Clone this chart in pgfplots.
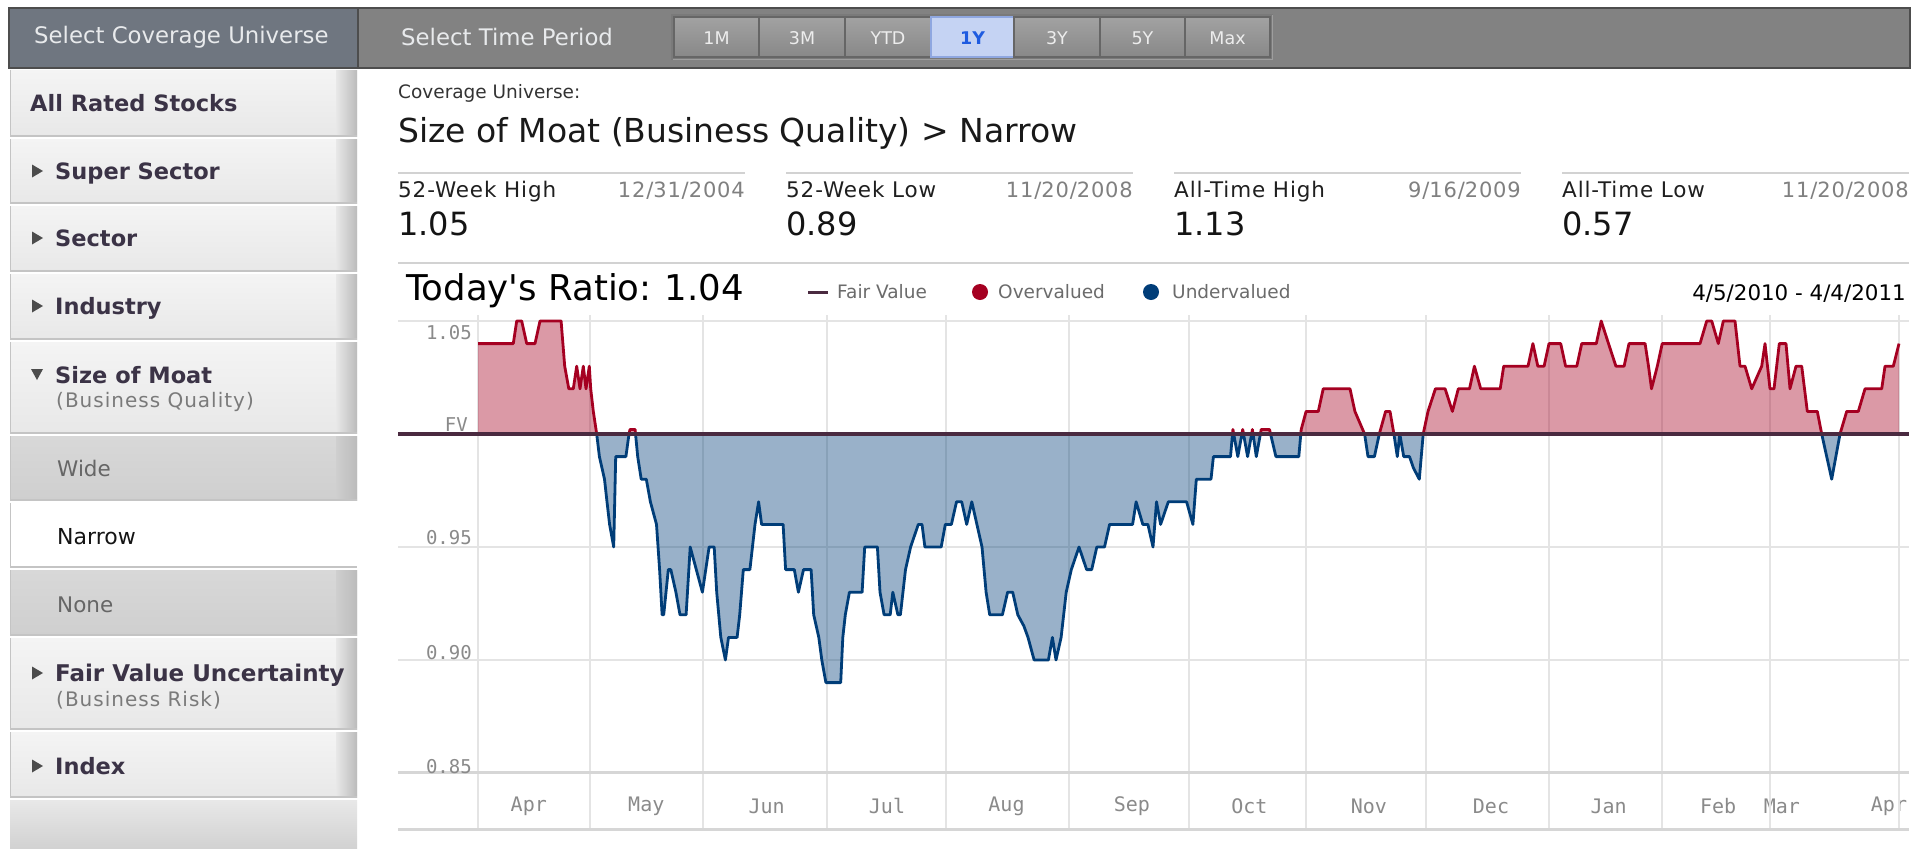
\documentclass[border=0pt]{standalone}
\usepackage{pgfplots}
\pgfplotsset{compat=1.18}
\usepackage{pgfplotstable}
\usepackage{fontspec}
\setmainfont{DejaVu Sans}
\newfontfamily\mono{DejaVu Sans Mono}
\newcommand{\fs}[1]{\fontsize{#1}{#1}\selectfont}
\definecolor{ovr}{HTML}{A50021}
\definecolor{und}{HTML}{003D78}
\definecolor{fvc}{HTML}{4A2A40}
\definecolor{grdc}{HTML}{E4E4E4}
\definecolor{axc}{HTML}{D6D6D6}
\definecolor{tickc}{HTML}{8A8A8A}
\definecolor{barL}{HTML}{6F7680}
\definecolor{barR}{HTML}{828282}
\definecolor{barEdge}{HTML}{4D4D4D}
\definecolor{hdrText}{HTML}{E8EAEC}
\definecolor{btnTop}{HTML}{A2A2A2}
\definecolor{btnBot}{HTML}{888888}
\definecolor{btnEdge}{HTML}{666666}
\definecolor{btnText}{HTML}{EDEDED}
\definecolor{hlFill}{HTML}{C5D3F3}
\definecolor{hlEdge}{HTML}{8FA7E0}
\definecolor{hlText}{HTML}{1E5BE0}
\definecolor{itemTop}{HTML}{F4F4F4}
\definecolor{itemBot}{HTML}{E8E8E8}
\definecolor{itemShadow}{HTML}{BBBBBB}
\definecolor{itemBorder}{HTML}{C4C4C4}
\definecolor{darkTop}{HTML}{D8D8D8}
\definecolor{darkBot}{HTML}{CFCFCF}
\definecolor{sideText}{HTML}{3B3346}
\definecolor{subText}{HTML}{7A7A7A}
\definecolor{ruleC}{HTML}{D2D2D2}

% Price / fair value ratio, 4/5/2010 - 4/4/2011 (u = position along the year, v = ratio)
\pgfplotstableread{
u v
0 1.04
35.3 1.04
38.7 1.05
43.7 1.05
48.7 1.04
57.0 1.04
62.0 1.05
83.1 1.05
86.7 1.03
90.8 1.02
95.3 1.02
98.7 1.03
102.0 1.02
105.3 1.03
108.0 1.02
111.3 1.03
112.7 1.02
115.3 1.01
118.7 1.00
121.4 0.99
126.5 0.98
129.0 0.97
131.6 0.96
135.7 0.95
137.7 0.99
147.9 0.99
151.0 1.00
152.0 1.002
157.1 1.002
159.7 0.99
163.2 0.98
168.3 0.98
172.4 0.97
178.5 0.96
181.6 0.94
184.1 0.92
185.7 0.92
190.3 0.94
192.8 0.94
197.9 0.93
202.0 0.92
208.1 0.92
212.2 0.95
218.3 0.94
224.4 0.93
231.1 0.95
236.2 0.95
238.7 0.93
242.8 0.91
247.4 0.90
250.5 0.91
259.1 0.91
261.7 0.92
265.3 0.94
271.9 0.94
277.0 0.96
280.6 0.97
283.6 0.96
305.1 0.96
307.6 0.94
316.3 0.94
320.4 0.93
325.5 0.94
333.1 0.94
335.7 0.92
340.8 0.91
343.8 0.90
347.9 0.89
362.7 0.89
364.8 0.91
367.3 0.92
371.4 0.93
384.1 0.93
386.7 0.95
399.4 0.95
402.0 0.93
406.1 0.92
412.2 0.92
414.8 0.93
419.9 0.92
422.4 0.92
427.5 0.94
432.6 0.95
440.3 0.96
444.0 0.96
446.9 0.95
463.2 0.95
467.3 0.96
473.4 0.96
478.5 0.97
483.7 0.97
488.7 0.96
493.8 0.97
498.9 0.96
504.0 0.95
508.1 0.93
511.7 0.92
524.4 0.92
529.6 0.93
534.7 0.93
539.8 0.92
545.9 0.915
550.0 0.91
556.1 0.90
570.4 0.90
574.4 0.91
578.0 0.90
583.1 0.91
588.2 0.93
593.3 0.94
601.0 0.95
608.6 0.94
613.7 0.94
618.8 0.95
626.5 0.95
631.6 0.96
654.6 0.96
658.1 0.97
664.8 0.96
669.9 0.96
675.0 0.95
678.5 0.97
682.6 0.96
690.3 0.97
708.6 0.97
714.9 0.96
718.3 0.98
733.0 0.98
735.4 0.99
752.5 0.99
754.9 1.002
759.8 0.99
764.7 1.002
769.6 0.99
774.4 1.002
778.3 0.99
783.2 1.002
791.5 1.002
797.9 0.99
820.8 0.99
823.2 1.002
828.1 1.01
840.3 1.01
845.2 1.02
872.0 1.02
876.9 1.01
886.6 1.00
890.0 0.99
896.4 0.99
901.3 1.00
907.6 1.01
912.0 1.01
915.9 1.00
919.3 0.99
921.8 1.00
925.7 0.99
931.5 0.99
935.4 0.985
941.3 0.98
945.2 1.00
950.0 1.01
957.4 1.02
967.1 1.02
974.4 1.01
980.3 1.02
991.5 1.02
996.4 1.03
1002.7 1.02
1022.2 1.02
1025.7 1.03
1050.0 1.03
1054.9 1.04
1059.8 1.03
1066.1 1.03
1071.0 1.04
1082.7 1.04
1087.6 1.03
1098.8 1.03
1103.7 1.04
1118.3 1.04
1123.2 1.05
1130.5 1.04
1137.9 1.03
1146.1 1.03
1151.0 1.04
1167.1 1.04
1170.5 1.03
1173.5 1.02
1179.3 1.03
1184.2 1.04
1222.0 1.04
1228.7 1.05
1233.7 1.05
1240.3 1.04
1245.3 1.05
1257.0 1.05
1262.0 1.03
1267.0 1.03
1273.7 1.02
1283.7 1.03
1287.0 1.04
1292.0 1.02
1296.0 1.02
1301.3 1.04
1308.0 1.04
1312.0 1.02
1318.0 1.03
1323.7 1.03
1329.3 1.01
1339.3 1.01
1343.7 1.00
1353.7 0.98
1362.0 1.00
1368.7 1.01
1380.3 1.01
1387.0 1.02
1403.7 1.02
1407.0 1.03
1415.3 1.03
1421.0 1.04
}\ratio
% the fair-value baseline that closes the shaded area
\pgfplotstableread{
u v
1421.0 1.00
0 1.00
}\closing
\pgfplotstablevertcat{\ratiofill}{\ratio}
\pgfplotstablevertcat{\ratiofill}{\closing}

\newcommand{\sideitem}[4]{%
  \shade[top color=#3, bottom color=#4] (10,#1) rectangle (357,#2);
  \shade[left color=#4, right color=itemShadow] (336,#1) rectangle (357,#2);
  \draw[itemBorder, line width=1.5pt] (10,#2) -- (357,#2);
  \draw[itemBorder, line width=1pt] (10,#1) -- (10,#2);
}
\newcommand{\tri}[1]{\fill[black!70] (32,#1-6.5) -- (43,#1) -- (32,#1+6.5) -- cycle;}
\newcommand{\btn}[3]{%
  \shade[top color=btnTop, bottom color=btnBot] (#1,17) rectangle (#2,57);
  \draw[btnEdge, line width=1.2pt] (#1,17) rectangle (#2,57);
  \node[text=btnText, font=\fs{17.5}, inner sep=0pt] at ({(#1+#2)/2},38) {#3};
}

\begin{document}
\begin{tikzpicture}
\fill[white] (0pt,0pt) rectangle (1915pt,-849pt);
\begin{scope}[x=1pt,y=-1pt]
  % top bar
  \fill[barL] (9,8) rectangle (358,68);
  \fill[barR] (358,8) rectangle (1910,68);
  \draw[barEdge, line width=1.5pt] (9,8) rectangle (1910,68);
  \draw[barEdge, line width=1.5pt] (358,8) -- (358,68);
  \node[anchor=west, inner sep=0pt, text=hdrText, font=\fs{22.8}] at (34,37) {Select Coverage Universe};
  \node[anchor=west, inner sep=0pt, text=hdrText, font=\fs{22.8}] at (401,37) {Select Time Period};
  \draw[black!52, line width=1.5pt] (672,15) rectangle (1272,59);
  \draw[black!38, line width=1pt] (673,59) -- (1272,59) -- (1272,15);
  \btn{674}{759}{1M}
  \btn{759}{845}{3M}
  \btn{845}{931}{YTD}
  \fill[hlFill] (931,17) rectangle (1014,57);
  \draw[hlEdge, line width=1.2pt] (931,17) rectangle (1014,57);
  \node[text=hlText, font=\bfseries\fs{17.5}, inner sep=0pt] at (972.5,38) {1Y};
  \btn{1014}{1100}{3Y}
  \btn{1100}{1185}{5Y}
  \btn{1185}{1270}{Max}

  % sidebar
  \sideitem{70}{136}{itemTop}{itemBot}
  \sideitem{139}{203}{itemTop}{itemBot}
  \sideitem{206}{271}{itemTop}{itemBot}
  \sideitem{274}{339}{itemTop}{itemBot}
  \sideitem{342}{433}{itemTop}{itemBot}
  \sideitem{436}{500}{darkTop}{darkBot}
  \fill[white] (10,503) rectangle (357,567);
  \draw[itemBorder, line width=1pt] (10,503) -- (10,567);
  \draw[itemBorder, line width=1.5pt] (10,567) -- (357,567);
  \sideitem{570}{635}{darkTop}{darkBot}
  \sideitem{638}{729}{itemTop}{itemBot}
  \sideitem{732}{797}{itemTop}{itemBot}
  \shade[top color=itemBot, bottom color=black!18] (10,800) rectangle (357,849);

  \node[anchor=base west, inner sep=0pt, text=sideText, font=\bfseries\fs{22.5}] at (30,111) {All Rated Stocks};
  \tri{171}
  \node[anchor=base west, inner sep=0pt, text=sideText, font=\bfseries\fs{22.5}] at (55,179) {Super Sector};
  \tri{238}
  \node[anchor=base west, inner sep=0pt, text=sideText, font=\bfseries\fs{22.5}] at (55,246) {Sector};
  \tri{306}
  \node[anchor=base west, inner sep=0pt, text=sideText, font=\bfseries\fs{22.5}] at (55,314) {Industry};
  \fill[black!70] (31,369) -- (43,369) -- (37,380) -- cycle;
  \node[anchor=base west, inner sep=0pt, text=sideText, font=\bfseries\fs{22.5}] at (55,383) {Size of Moat};
  \node[anchor=base west, inner sep=0pt, text=subText, font=\fs{20}\addfontfeatures{LetterSpace=5}] at (56,407) {(Business Quality)};
  \node[anchor=base west, inner sep=0pt, text=black!60, font=\fs{21.5}] at (57,476) {Wide};
  \node[anchor=base west, inner sep=0pt, text=black!92, font=\fs{22}] at (57,544) {Narrow};
  \node[anchor=base west, inner sep=0pt, text=black!60, font=\fs{21.5}] at (57,612) {None};
  \tri{673}
  \node[anchor=base west, inner sep=0pt, text=sideText, font=\bfseries\fs{23}] at (55,681) {Fair Value Uncertainty};
  \node[anchor=base west, inner sep=0pt, text=subText, font=\fs{20}\addfontfeatures{LetterSpace=5}] at (56,706) {(Business Risk)};
  \tri{766}
  \node[anchor=base west, inner sep=0pt, text=sideText, font=\bfseries\fs{22.5}] at (55,774) {Index};

  % header of content
  \node[anchor=west, inner sep=0pt, text=black!80, font=\fs{18.5}] at (398,93) {Coverage Universe:};
  \node[anchor=west, inner sep=0pt, text=black!90, font=\fs{33}] at (398,133) {Size of Moat (Business Quality) > Narrow};

  % stats
  \foreach \a/\b/\lab/\dt/\val in {398/745/52-Week High/12\slash31\slash2004/1.05,
                                   786/1133/52-Week Low/11\slash20\slash2008/0.89,
                                   1174/1521/All-Time High/9\slash16\slash2009/1.13,
                                   1562/1909/All-Time Low/11\slash20\slash2008/0.57}{
    \draw[ruleC, line width=2pt] (\a,173) -- (\b,173);
    \node[anchor=base west, inner sep=0pt, text=black!88, font=\fs{21.5}\addfontfeatures{LetterSpace=4}] at (\a,197) {\lab};
    \node[anchor=base east, inner sep=0pt, text=black!50, font=\fs{21}\addfontfeatures{LetterSpace=4}] at (\b,197.5) {\dt};
    \node[anchor=base west, inner sep=0pt, text=black!92, font=\fs{32}] at (\a,235.5) {\val};
  }
  \draw[ruleC, line width=2.5pt] (398,263) -- (1909,263);

  \node[anchor=west, inner sep=0pt, text=black, font=\fs{35.5}] at (406,291) {Today\textquotesingle s Ratio:\ \hspace{2pt}1.04};
  \draw[fvc, line width=3pt] (808,292) -- (828,292);
  \node[anchor=west, inner sep=0pt, text=black!58, font=\fs{18.5}] at (837,292) {Fair Value};
  \fill[ovr] (980,292) circle (8);
  \node[anchor=west, inner sep=0pt, text=black!58, font=\fs{18.5}] at (998,292) {Overvalued};
  \fill[und] (1151,292) circle (8);
  \node[anchor=west, inner sep=0pt, text=black!58, font=\fs{18.5}] at (1172,292) {Undervalued};
  \node[anchor=east, inner sep=0pt, text=black, font=\fs{21.4}] at (1906,294) {4/5/2010 - 4/4/2011};
\end{scope}

% background grid axis
\begin{axis}[
  at={(398pt,-829pt)}, anchor=south west,
  scale only axis, width=1511pt, height=514pt,
  xmin=-80, xmax=1431, ymin=0.8252, ymax=1.0527,
  axis line style={draw=none},
  major tick length=0pt,
  xtick={50.8,168.3,288.7,409,528.5,653.8,771.3,890.8,1013,1130.6,1240.2,1303.9,1411},
  xticklabels={Apr,May,Jun,Jul,Aug,Sep,Oct,Nov,Dec,Jan,Feb,Mar,Apr},
  xticklabel style={font=\mono\fs{20}, text=tickc, anchor=center, yshift=23pt},
  extra x ticks={0,111.5,225,349.4,467.8,591.2,710.6,828,947.5,1071,1184.4,1292,1420.8},
  extra x tick labels={,,,,,,,,,,,,},
  extra x tick style={grid=major},
  ytick={0.90,0.95,1.05}, yticklabels={,,},
  ymajorgrids,
  major grid style={color=grdc, line width=2pt},
  extra y ticks={0.8252,0.85}, extra y tick labels={,},
  extra y tick style={grid=major, major grid style={color=axc, line width=3pt}},
]
\node[anchor=east, inner sep=0pt, font=\mono\fs{19}, text=tickc] at (axis cs:-6,1.0447) {1.05};
\node[anchor=east, inner sep=0pt, font=\mono\fs{19}, text=tickc] at (axis cs:-10,1.004) {FV};
\node[anchor=east, inner sep=0pt, font=\mono\fs{19}, text=tickc] at (axis cs:-6,0.954) {0.95};
\node[anchor=east, inner sep=0pt, font=\mono\fs{19}, text=tickc] at (axis cs:-6,0.9035) {0.90};
\node[anchor=east, inner sep=0pt, font=\mono\fs{19}, text=tickc] at (axis cs:-6,0.853) {0.85};
\end{axis}

% overvalued part (clipped above FV)
\begin{axis}[
  at={(398pt,-434pt)}, anchor=south west,
  scale only axis, width=1511pt, height=126.56pt,
  xmin=-80, xmax=1431, ymin=1.0, ymax=1.056, hide axis]
\addplot[fill=ovr, fill opacity=0.4, draw=none] table[x=u,y=v]{\ratiofill};
\addplot[ovr, line width=2.8pt, line join=round] table[x=u,y=v]{\ratio};
\end{axis}

% undervalued part (clipped below FV)
\begin{axis}[
  at={(398pt,-434pt)}, anchor=north west,
  scale only axis, width=1511pt, height=339pt,
  xmin=-80, xmax=1431, ymin=0.85, ymax=1.0, hide axis]
\addplot[fill=und, fill opacity=0.4, draw=none] table[x=u,y=v]{\ratiofill};
\addplot[und, line width=2.8pt, line join=round] table[x=u,y=v]{\ratio};
\end{axis}

% fair value line
\begin{axis}[
  at={(398pt,-829pt)}, anchor=south west,
  scale only axis, width=1511pt, height=514pt,
  xmin=-80, xmax=1431, ymin=0.8252, ymax=1.0527, hide axis]
\addplot[fvc, line width=4.5pt] coordinates {(-80,1) (1431,1)};
\end{axis}
\end{tikzpicture}
\end{document}
